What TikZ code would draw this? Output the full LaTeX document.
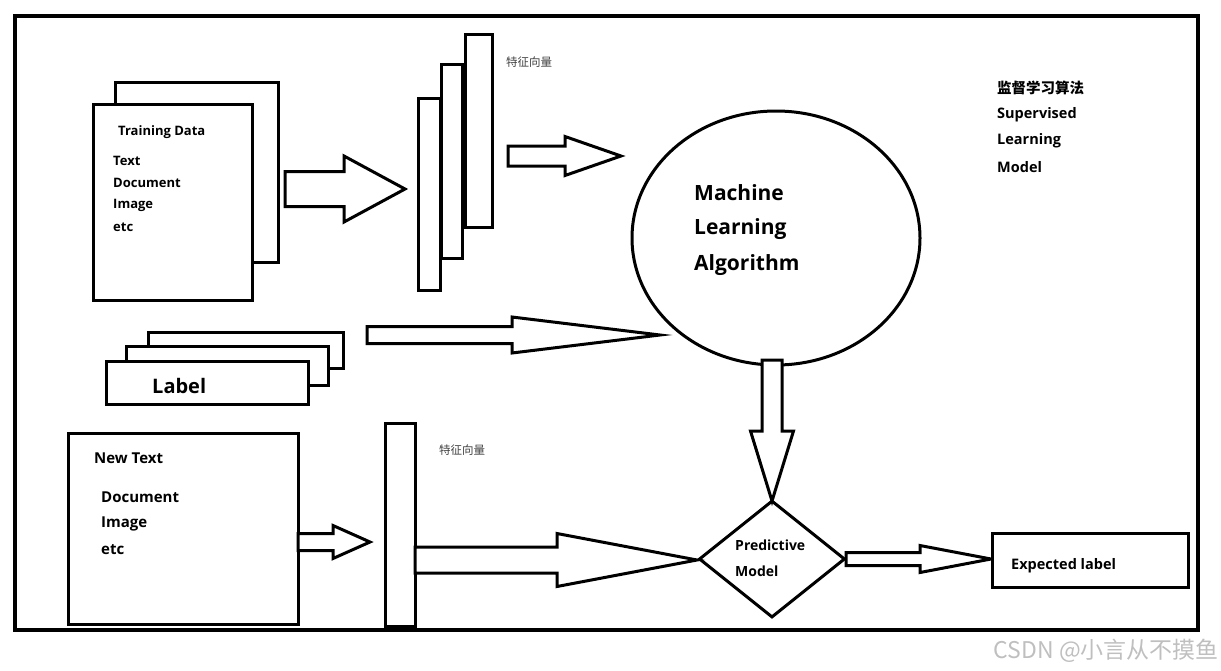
\documentclass[tikz,border=0pt]{standalone}
\usepackage{fontspec}
\setmainfont{Open Sans}
\newfontfamily\cjk{Noto Sans CJK SC}
\usetikzlibrary{shapes.geometric}

\tikzset{
  box/.style={draw, line width=3pt, fill=white, inner sep=0pt},
  blockarrow/.style={draw, line width=3pt, fill=white, line join=miter},
  txt/.style={anchor=west, inner sep=0pt, font=\bfseries\fontsize{#1}{#1}\selectfont},
  txt/.default=13
}
% horizontal block arrow: start x, head x, tip x, mid y, shaft half, head half
\newcommand{\harrow}[6]{%
  \draw[blockarrow] (#1,{#4-#5}) -- (#2,{#4-#5}) -- (#2,{#4-#6}) -- (#3,#4)
    -- (#2,{#4+#6}) -- (#2,{#4+#5}) -- (#1,{#4+#5}) -- cycle;}

\begin{document}
\begin{tikzpicture}[x=1pt,y=-1pt]
  \useasboundingbox (0,0) rectangle (1221,670);
  %% frame
  \draw[line width=3.5pt] (15,16) rectangle (1198,630);
  %% training data pages
  \node[box, minimum width=163pt, minimum height=180pt] (backpage) at (196.5,172) {};
  \node[box, minimum width=159pt, minimum height=196pt] (trainpage) at (172.5,202) {};
  \node[txt] (traintitle) at (118,132) {Training Data};
  \node[txt] (trtext) at (113,161) {Text};
  \node[txt] (trdoc) at (113,183) {Document};
  \node[txt] (trimg) at (113,205) {Image};
  \node[txt] (tretc) at (113,227) {etc};
  \harrow{285}{344}{405}{189}{17.5}{33}
  %% feature vectors
  \node[box, minimum width=27pt, minimum height=193pt] (vecc) at (478.5,131) {};
  \node[box, minimum width=21pt, minimum height=194pt] (vecb) at (451.5,161) {};
  \node[box, minimum width=22pt, minimum height=192pt] (veca) at (429,194) {};
  \node[anchor=west, inner sep=0pt, text=black!75, font=\cjk\fontsize{11.5}{12}\selectfont] (vectop) at (506,62) {特征向量};
  \harrow{508}{565}{621}{156}{10}{19.5}
  %% algorithm
  \node[ellipse, draw, line width=3pt, minimum width=288pt, minimum height=254pt] (algo) at (776,238) {};
  \node[txt=21] (mla) at (694,193) {Machine};
  \node[txt=21] (mlb) at (694,229) {Learning};
  \node[txt=21] (mlc) at (694,265) {Algorithm};
  \node[anchor=west, inner sep=0pt, font=\cjk\bfseries\fontsize{14.5}{15}\selectfont] (supcn) at (997,88) {监督学习算法};
  \node[txt=14.5] (supa) at (997,115) {Supervised};
  \node[txt=14.5] (supb) at (997,141) {Learning};
  \node[txt=14.5] (supc) at (997,167) {Model};
  %% labels
  \node[box, minimum width=195pt, minimum height=36pt] (labc) at (245.5,350.5) {};
  \node[box, minimum width=202pt, minimum height=39pt] (labb) at (227,365.5) {};
  \node[box, minimum width=202pt, minimum height=43pt] (laba) at (207,382.5) {};
  \node[txt=20] (labtxt) at (152,386) {Label};
  \harrow{367}{512}{660}{335}{8.5}{18}
  %% new text
  \node[box, minimum width=230pt, minimum height=191pt] (newpage) at (183,528.5) {};
  \node[txt=15] (newtitle) at (94,458) {New Text};
  \node[txt=15] (newdoc) at (101,497) {Document};
  \node[txt=15] (newimg) at (101,524) {Image};
  \node[txt=15] (newetc) at (101,550) {etc};
  \harrow{298}{333}{370}{542}{8.5}{16.5}
  \node[box, minimum width=30pt, minimum height=203pt] (vecnew) at (400,524.5) {};
  \node[anchor=west, inner sep=0pt, text=black!75, font=\cjk\fontsize{11.5}{12}\selectfont] (vecbot) at (439,450) {特征向量};
  \harrow{415}{557}{697}{560}{13}{26.5}
  %% prediction
  \draw[blockarrow] (762,360) -- (762,431) -- (750.5,431) -- (772,501)
    -- (793.5,431) -- (782,431) -- (782,360) -- cycle;
  \node[diamond, draw, line width=3pt, minimum width=146pt, minimum height=117pt] (predict) at (772,559) {};
  \node[txt=14] (preda) at (735,545) {Predictive};
  \node[txt=14] (predb) at (735,571) {Model};
  \harrow{846}{920}{991}{559}{6.5}{13.5}
  \node[box, minimum width=196pt, minimum height=54pt] (expect) at (1090,560) {};
  \node[txt=14.5] (exptxt) at (1011,566) {Expected label};
  %% watermark
  \node[anchor=east, inner sep=0pt, text=black!25, font=\cjk\fontsize{23}{24}\selectfont] (mark) at (1219,651) {CSDN @小言从不摸鱼};
\end{tikzpicture}
\end{document}
